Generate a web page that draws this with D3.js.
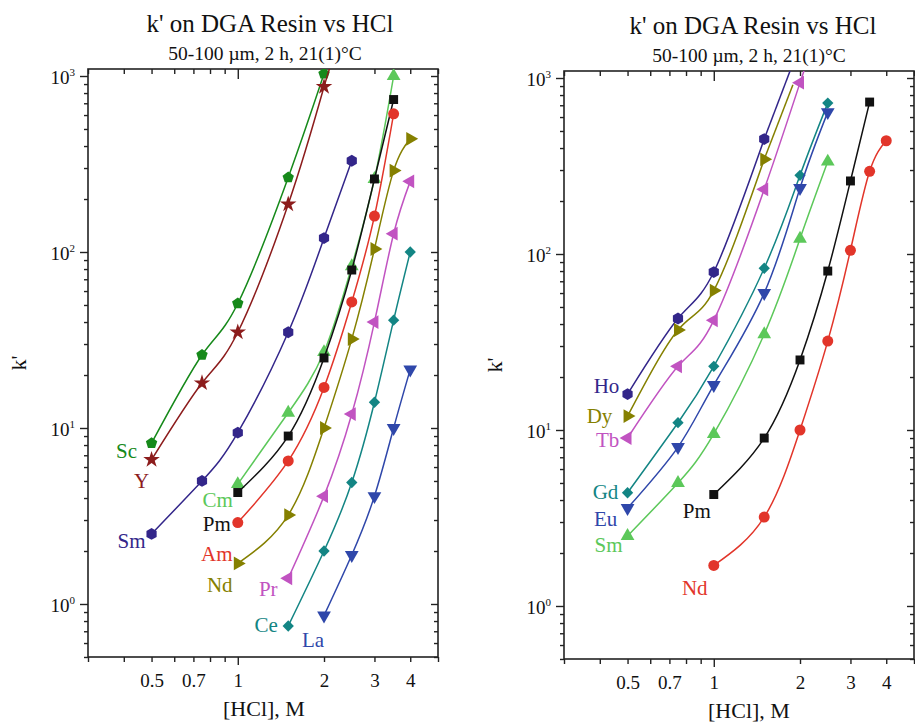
<!DOCTYPE html>
<html>
<head>
<meta charset="utf-8">
<script src="https://cdn.jsdelivr.net/npm/d3@7"></script>
<style>
body{margin:0;background:#fff;}
svg{display:block;font-family:"Liberation Serif","Times New Roman",serif;}
</style>
</head>
<body>
<div id="container"></div>
<script>
// tick values
const xTickVals = [0.5, 0.7, 1, 2, 3, 4];
const xMinorVals = [0.3, 0.4, 0.5, 0.6, 0.7, 0.8, 0.9, 1, 2, 3, 4, 5];
const yTickVals = [1, 10, 100, 1000];
const yMinorVals = [0.5, 0.6, 0.7, 0.8, 0.9, 1, 2, 3, 4, 5, 6, 7, 8, 9,
  10, 20, 30, 40, 50, 60, 70, 80, 90, 100, 200, 300, 400, 500, 600, 700, 800, 900, 1000];

// left panel: [HCl] (M) and k'
const scHcl = [0.5, 0.75, 1, 1.5, 2];
const scK = [8.2, 26, 51, 265, 1030];
const yHcl = [0.5, 0.75, 1, 1.5, 2];
const yK = [6.6, 18, 35, 187, 870];
const smHcl = [0.5, 0.75, 1, 1.5, 2, 2.5];
const smK = [2.5, 5, 9.4, 35, 120, 330];
const cmHcl = [1, 1.5, 2, 2.5, 3, 3.5];
const cmK = [4.8, 12.2, 27, 83, 260, 1000];
const pmHcl = [1, 1.5, 2, 2.5, 3, 3.5];
const pmK = [4.3, 9, 25, 79, 260, 735];
const amHcl = [1, 1.5, 2, 2.5, 3, 3.5];
const amK = [2.9, 6.5, 17, 52, 160, 610];
const ndHcl = [1, 1.5, 2, 2.5, 3, 3.5, 4];
const ndK = [1.7, 3.2, 10, 32, 104, 290, 440];
const prHcl = [1.5, 2, 2.5, 3, 3.5, 4];
const prK = [1.4, 4.1, 12, 40, 127, 252];
const ceHcl = [1.5, 2, 2.5, 3, 3.5, 4];
const ceK = [0.75, 2, 4.9, 14, 41, 100];
const laHcl = [2, 2.5, 3, 3.5, 4];
const laK = [0.86, 1.9, 4.1, 10, 21.5];

// right panel
const hoHcl = [0.5, 0.75, 1, 1.5];
const hoK = [16, 43, 79, 450];
const dyHcl = [0.5, 0.75, 1, 1.5];
const dyK = [12, 37, 62, 345];
const tbHcl = [0.5, 0.75, 1, 1.5, 2];
const tbK = [9, 23, 42, 233, 940];
const gdHcl = [0.5, 0.75, 1, 1.5, 2, 2.5];
const gdK = [4.4, 11, 23, 83, 280, 720];
const euHcl = [0.5, 0.75, 1, 1.5, 2, 2.5];
const euK = [3.6, 8, 18, 60, 237, 640];
const smRHcl = [0.5, 0.75, 1, 1.5, 2, 2.5];
const smRK = [2.5, 5, 9.5, 35, 122, 335];
const pmRHcl = [1, 1.5, 2, 2.5, 3, 3.5];
const pmRK = [4.3, 9, 25, 80, 260, 730];
const ndRHcl = [1, 1.5, 2, 2.5, 3, 3.5, 4];
const ndRK = [1.7, 3.2, 10, 32, 105, 295, 440];

const w = 915, h = 722;

// colors
const cGreen = "#16891a", cRed = "#8c1c1c", cIndigo = "#33268a", cLime = "#5cc85a",
  cBlack = "#111", cOrange = "#e2352a", cOlive = "#858000", cMag = "#c153c1",
  cTeal = "#138584", cBlue = "#2f47aa";

// custom markers
function polygon(n) {
  return {draw(ctx, size) {
    const r = Math.sqrt(size / (n / 2 * Math.sin(2 * Math.PI / n)));
    for (let i = 0; i < n; i++) {
      const a = -Math.PI / 2 + i * 2 * Math.PI / n;
      i ? ctx.lineTo(r * Math.cos(a), r * Math.sin(a)) : ctx.moveTo(r * Math.cos(a), r * Math.sin(a));
    }
    ctx.closePath();
  }};
}
const markers = {
  pentagon: {type: polygon(5), size: 85, rot: 0},
  hexagon: {type: polygon(6), size: 90, rot: 0},
  star: {type: d3.symbolStar, size: 85, rot: 0},
  up: {type: d3.symbolTriangle, size: 82, rot: 0},
  down: {type: d3.symbolTriangle, size: 82, rot: 180},
  right: {type: d3.symbolTriangle, size: 82, rot: 90},
  left: {type: d3.symbolTriangle, size: 82, rot: -90},
  square: {type: d3.symbolSquare, size: 80, rot: 0},
  circle: {type: d3.symbolCircle, size: 95, rot: 0},
  diamond: {type: d3.symbolSquare, size: 64, rot: 45}
};

const leftSeries = [
  {name: "Sc", x: scHcl, k: scK, color: cGreen, m: "pentagon", dx: -25, dy: 7, ext: true},
  {name: "Y", x: yHcl, k: yK, color: cRed, m: "star", dx: -10, dy: 21, ext: true},
  {name: "Sm", x: smHcl, k: smK, color: cIndigo, m: "hexagon", dx: -20, dy: 7},
  {name: "Cm", x: cmHcl, k: cmK, color: cLime, m: "up", dx: -20, dy: 16},
  {name: "Pm", x: pmHcl, k: pmK, color: cBlack, m: "square", dx: -21, dy: 31},
  {name: "Am", x: amHcl, k: amK, color: cOrange, m: "circle", dx: -21, dy: 31},
  {name: "Nd", x: ndHcl, k: ndK, color: cOlive, m: "right", dx: -18, dy: 21},
  {name: "Pr", x: prHcl, k: prK, color: cMag, m: "left", dx: -20, dy: 10},
  {name: "Ce", x: ceHcl, k: ceK, color: cTeal, m: "diamond", dx: -22, dy: -1},
  {name: "La", x: laHcl, k: laK, color: cBlue, m: "down", dx: -11, dy: 24}
];
const rightSeries = [
  {name: "Ho", x: hoHcl, k: hoK, color: cIndigo, m: "hexagon", dx: -21, dy: -8, ext: true},
  {name: "Dy", x: dyHcl, k: dyK, color: cOlive, m: "right", dx: -28, dy: 0, ext: true},
  {name: "Tb", x: tbHcl, k: tbK, color: cMag, m: "left", dx: -20, dy: 2, ext: true},
  {name: "Gd", x: gdHcl, k: gdK, color: cTeal, m: "diamond", dx: -22, dy: -1},
  {name: "Eu", x: euHcl, k: euK, color: cBlue, m: "down", dx: -22, dy: 11},
  {name: "Sm", x: smRHcl, k: smRK, color: cLime, m: "up", dx: -19, dy: 9},
  {name: "Pm", x: pmRHcl, k: pmRK, color: cBlack, m: "square", dx: -17, dy: 16},
  {name: "Nd", x: ndRHcl, k: ndRK, color: cOrange, m: "circle", dx: -19, dy: 22}
];

const svg = d3.select("#container").append("svg")
  .attr("width", w).attr("height", h);

function drawPanel(p, series, id) {
  const x = d3.scaleLog().domain([0.3, 5]).range([p.left, p.right]);
  const y = d3.scaleLog().domain([0.4998, 1096]).range([p.bottom, p.top]);
  const g = svg.append("g");

  // titles
  g.append("text").attr("x", p.titleX).attr("y", p.titleY)
    .attr("text-anchor", "middle").style("font-size", "25px").attr("fill", "#111")
    .text("k' on DGA Resin vs HCl");
  g.append("text").attr("x", p.subX).attr("y", p.titleY + 28)
    .attr("text-anchor", "middle").style("font-size", "19.5px").attr("fill", "#111")
    .text("50-100 \u00b5m, 2 h, 21(1)\u00b0C");

  // axes
  const bottom = g.append("g").attr("transform", "translate(0," + p.bottom + ")")
    .call(d3.axisBottom(x).tickValues(xMinorVals).tickSize(5).tickSizeOuter(0)
      .tickFormat(d => xTickVals.includes(d) ? d : ""));
  const top = g.append("g").attr("transform", "translate(0," + p.top + ")")
    .call(d3.axisTop(x).tickValues(xMinorVals).tickSize(-5).tickSizeOuter(0).tickFormat(""));
  const leftAx = g.append("g").attr("transform", "translate(" + p.left + ",0)")
    .call(d3.axisLeft(y).tickValues(yMinorVals).tickSize(4).tickSizeOuter(0).tickFormat(""));
  const rightAx = g.append("g").attr("transform", "translate(" + p.right + ",0)")
    .call(d3.axisRight(y).tickValues(yMinorVals).tickSize(-4).tickSizeOuter(0).tickFormat(""));

  [bottom, top, leftAx, rightAx].forEach(a => {
    a.attr("font-family", null).attr("font-size", null);
    a.select(".domain").remove();
    a.selectAll("line").attr("stroke", "#222").attr("stroke-width", 1.4);
  });
  bottom.selectAll(".tick").filter(d => d === 1).select("line").attr("y2", 8);
  top.selectAll(".tick").filter(d => d === 1).select("line").attr("y2", 10);
  leftAx.selectAll(".tick").filter(d => yTickVals.includes(d)).select("line").attr("x2", -8);
  rightAx.selectAll(".tick").filter(d => yTickVals.includes(d)).select("line").attr("x2", -7);

  bottom.selectAll("text").attr("y", 30).attr("dy", null)
    .style("font-size", "19px").attr("fill", "#111");

  leftAx.selectAll(".tick").filter(d => yTickVals.includes(d)).each(function(d) {
    const t = d3.select(this).append("text")
      .attr("x", -13).attr("dy", "0.38em").attr("text-anchor", "end")
      .attr("fill", "#111").style("font-size", "19px")
      .text("10");
    t.append("tspan").attr("dy", -8).style("font-size", "11px").text(Math.round(Math.log10(d)));
  });

  g.append("rect").attr("x", p.left).attr("y", p.top)
    .attr("width", p.right - p.left).attr("height", p.bottom - p.top)
    .attr("fill", "none").attr("stroke", "#222").attr("stroke-width", 1.6);

  // axis titles
  g.append("text").attr("x", p.xLabelX).attr("y", p.bottom + 59)
    .attr("text-anchor", "middle").style("font-size", "22px").attr("fill", "#111")
    .text("[HCl], M");
  g.append("text")
    .attr("transform", "translate(" + (p.left - 62) + "," + ((p.top + p.bottom) / 2) + ") rotate(-90)")
    .attr("text-anchor", "middle").style("font-size", "22px").attr("fill", "#111")
    .text("k'");

  // clip
  svg.append("clipPath").attr("id", id).append("rect")
    .attr("x", p.left).attr("y", p.top)
    .attr("width", p.right - p.left).attr("height", p.bottom - p.top);

  const plot = g.append("g").attr("clip-path", "url(#" + id + ")");
  const line = d3.line().x(d => x(d[0])).y(d => y(d[1])).curve(d3.curveNatural);

  series.forEach(s => {
    const pts = s.x.map((v, i) => [v, s.k[i]]);
    plot.append("path").datum(pts)
      .attr("d", line).attr("fill", "none")
      .attr("stroke", s.color).attr("stroke-width", 1.5);
    if (s.ext) {
      // the fitted curve runs on past the last point, out through the top of the frame
      const a = pts[pts.length - 2], b = pts[pts.length - 1];
      const x0 = x(a[0]), y0 = y(a[1]), x1 = x(b[0]), y1 = y(b[1]);
      const len = Math.hypot(x1 - x0, y1 - y0);
      plot.append("line")
        .attr("x1", x1).attr("y1", y1)
        .attr("x2", x1 + (x1 - x0) / len * 80).attr("y2", y1 + (y1 - y0) / len * 80)
        .attr("stroke", s.color).attr("stroke-width", 1.5);
    }
    const mk = markers[s.m];
    plot.selectAll(null).data(pts).enter().append("path")
      .attr("transform", d => "translate(" + x(d[0]) + "," + y(d[1]) + ") rotate(" + mk.rot + ")")
      .attr("d", d3.symbol().type(mk.type).size(mk.size))
      .attr("fill", s.color);
    g.append("text")
      .attr("x", x(pts[0][0]) + s.dx).attr("y", y(pts[0][1]) + s.dy)
      .attr("dy", "0.35em").attr("text-anchor", "middle")
      .style("font-size", "21px").attr("fill", s.color)
      .text(s.name);
  });
}

drawPanel({left: 88, right: 438, top: 69, bottom: 657, titleX: 270, titleY: 32, subX: 265, xLabelX: 264},
  leftSeries, "clipL");
drawPanel({left: 564, right: 914, top: 71, bottom: 659, titleX: 753, titleY: 34, subX: 749, xLabelX: 749},
  rightSeries, "clipR");
</script>
</body>
</html>
